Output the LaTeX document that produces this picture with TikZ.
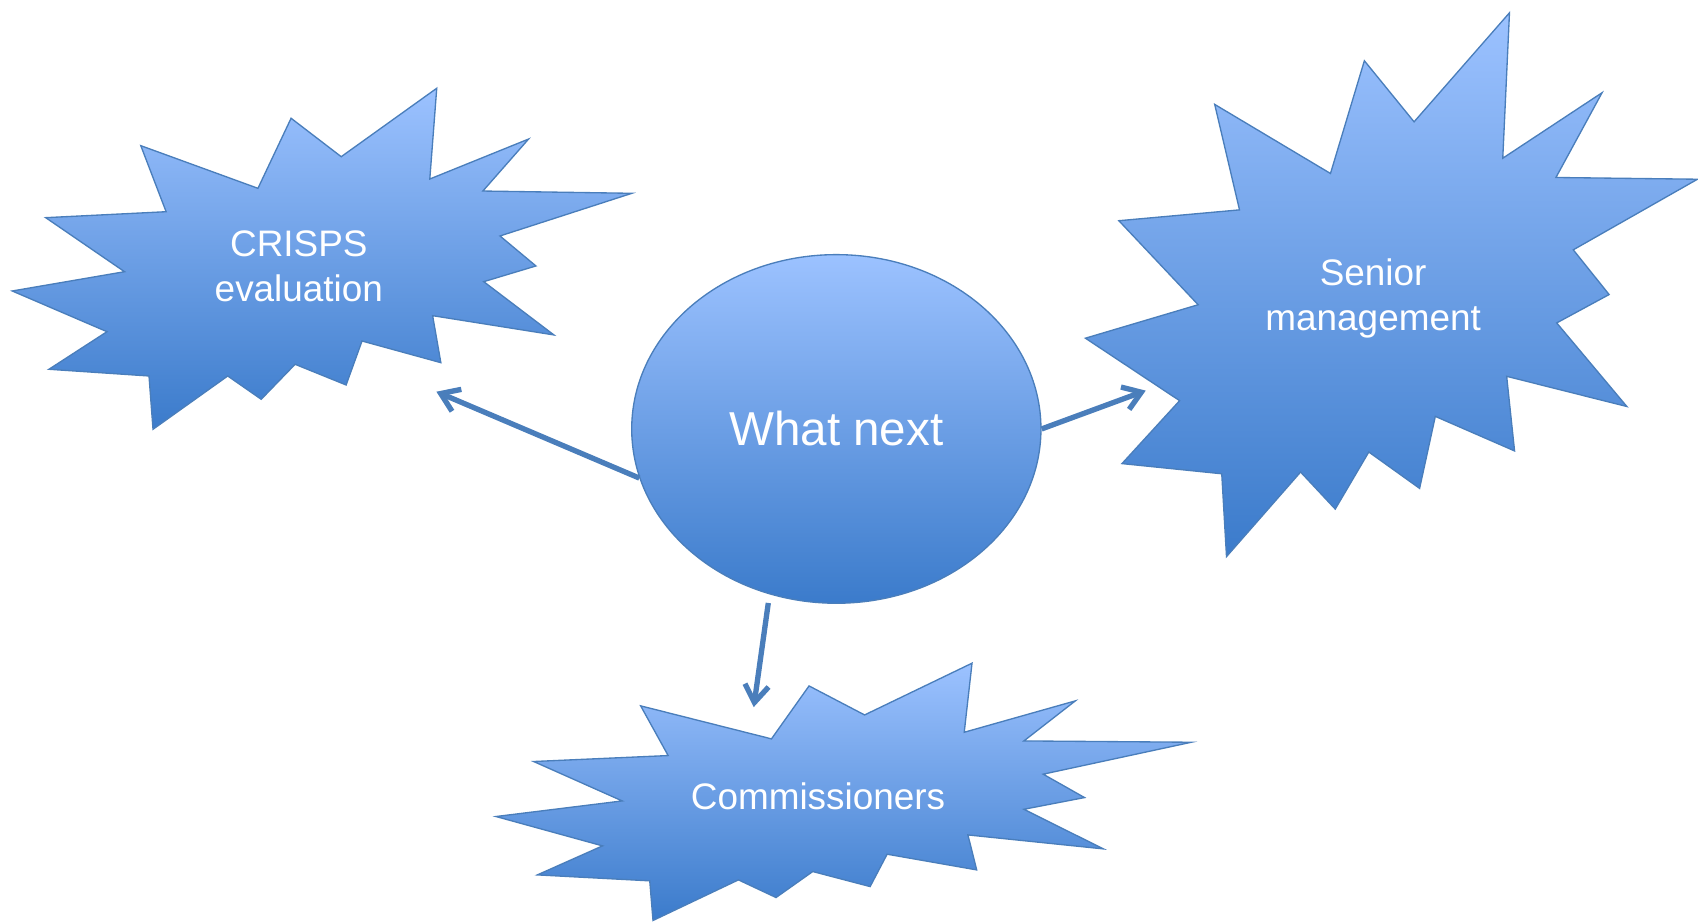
\documentclass[tikz,border=0pt]{standalone}
\usepackage{fontspec}
\setmainfont{Liberation Sans}
\usepackage{tikz}
\usetikzlibrary{arrows,arrows.meta,shapes,calc,positioning}
\definecolor{burstlight}{HTML}{9CC2FF}
\definecolor{burstdark}{HTML}{3B7BCB}
\definecolor{burstedge}{HTML}{4A7EBB}
\tikzstyle{arrow}=[draw=burstedge,line width=2.8pt,
  -{Straight Barb[length=3.2mm,width=4.4mm]}]
\tikzstyle{burst} =
  [draw=burstedge, line width=0.7pt, line join=miter,
   top color=burstlight, bottom color=burstdark]
\tikzstyle{hub} =
  [ellipse, draw=burstedge, line width=0.7pt, inner sep=0pt,
   top color=burstlight, bottom color=burstdark,
   minimum width=7.56cm, minimum height=6.44cm,
   text=white, font=\fontsize{25}{30}\selectfont]
\tikzstyle{tag} =
  [text=white, align=center, inner sep=0pt,
   font=\fontsize{19.4}{23.8}\selectfont]

\begin{document}
\begin{tikzpicture}[x=0.02cm, y=-0.02cm]
  \useasboundingbox (0,0) rectangle (1568,852);

  % left burst
  \path [burst] (130,134.5) -- (238.2,173.9) -- (268.8,109.2) -- (315.1,144.7)
    -- (403.3,81.5) -- (396.9,165.3) -- (488.1,128.4) -- (445.9,176.4)
    -- (583.5,178.5) -- (461.7,217.9) -- (494.9,245.6) -- (446.7,260.1)
    -- (511.5,309.3) -- (399.5,291.5) -- (407.1,334.9) -- (334.3,314.9)
    -- (319.6,355.5) -- (272.5,336.4) -- (241.2,368.7) -- (210.3,347.2)
    -- (141.3,396.4) -- (137.6,347.2) -- (45.2,341) -- (98.8,306.3)
    -- (11.3,268.7) -- (115,250.9) -- (42.2,201) -- (153.4,195.5) -- cycle;
  % right burst
  \path [burst] (1121.7,96.4) -- (1228.6,160.2) -- (1259.9,56.1) -- (1305.8,112.5)
    -- (1393.9,11.8) -- (1387.7,146.1) -- (1479.4,85.6) -- (1436.8,163.9)
    -- (1567.5,165.5) -- (1452.8,230.7) -- (1485.9,272) -- (1437.5,298.2)
    -- (1502.3,375.4) -- (1391.3,347.5) -- (1398.6,416.4) -- (1325.4,384.5)
    -- (1310.9,451) -- (1264,417.4) -- (1233,470.1) -- (1201,435.9)
    -- (1132.6,514) -- (1128.2,437.5) -- (1036.1,428.1) -- (1089.3,370)
    -- (1002.3,312.3) -- (1106.4,281.4) -- (1033.2,203.8) -- (1144.6,193.8) -- cycle;
  % bottom burst
  \path [burst] (591.6,651.8) -- (712.4,682.3) -- (747.1,633.4) -- (798.4,660.2)
    -- (897.6,612.4) -- (890.4,676.2) -- (993,647.2) -- (945.5,684.2)
    -- (1100.2,685.4) -- (963.3,714.9) -- (1001.5,736.5) -- (945.5,747.3)
    -- (1018.9,783.9) -- (893.8,771) -- (901.9,803.3) -- (819.2,788.8)
    -- (803.5,818.7) -- (750.5,804.8) -- (716.6,828.8) -- (681.9,812.5)
    -- (603,850) -- (600,813.4) -- (496.2,807.9) -- (556.4,781.1)
    -- (458,754) -- (574.6,739.6) -- (492.8,703.2) -- (617,697.7) -- cycle;

  \node [hub] (next) at (772.3,396.1) {What next};
  \node [tag] (crisps) at (276,245.6) {CRISPS\\evaluation};
  \node [tag] (senior) at (1268,275.8) {Senior\\management};
  \node [tag] (comm) at (755.4,735.6) {Commissioners};

  \coordinate (crispstip) at (403,361.7);
  \coordinate (seniortip) at (1058,360.7);
  \coordinate (commtip) at (696,653);

  \draw [arrow] (next.194) to (crispstip);
  \draw [arrow] (next.east) to (seniortip);
  \draw [arrow, shorten <=1.6mm] (next.248) to (commtip);
\end{tikzpicture}
\end{document}
